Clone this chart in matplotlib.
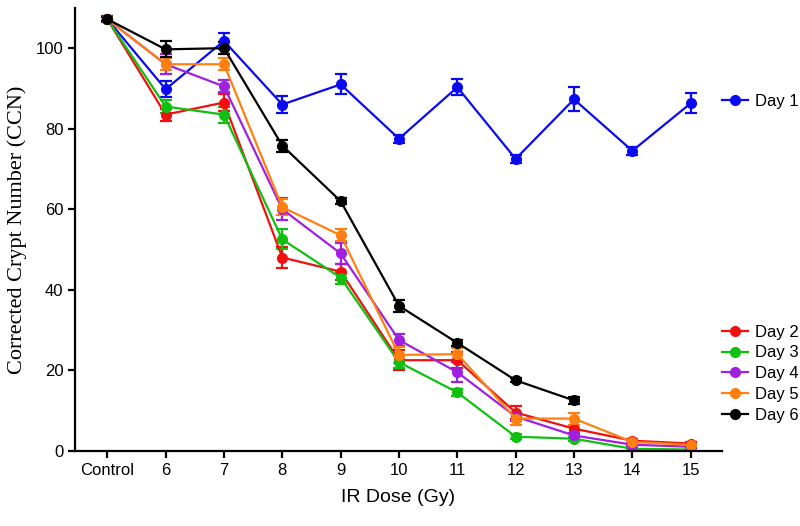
import matplotlib.pyplot as plt
from matplotlib.lines import Line2D
import numpy as np

# x categories
doses = ['Control', '6', '7', '8', '9', '10', '11', '12', '13', '14', '15']

# mean corrected crypt number per day
day1 = [107.2, 89.8, 101.8, 86.0, 91.0, 77.5, 90.3, 72.5, 87.3, 74.5, 86.3]
day2 = [107.2, 83.5, 86.5, 48.0, 44.5, 22.5, 22.5, 9.5, 5.5, 2.5, 1.8]
day3 = [107.2, 85.5, 83.5, 52.5, 43.0, 22.0, 14.5, 3.5, 3.0, 0.5, 0.3]
day4 = [107.2, 96.0, 90.5, 60.0, 49.0, 27.5, 19.5, 8.5, 3.8, 1.5, 1.0]
day5 = [107.2, 96.0, 96.0, 60.5, 53.5, 23.8, 24.0, 8.0, 8.0, 2.2, 1.5]
day6 = [107.2, 99.7, 100.0, 75.8, 62.0, 36.0, 26.8, 17.5, 12.5]

# standard errors
err1 = [0.8, 2.0, 2.0, 2.2, 2.5, 1.0, 2.0, 1.0, 3.0, 1.0, 2.5]
err2 = [0.5, 1.5, 2.0, 2.5, 2.0, 2.5, 2.0, 1.5, 1.0, 0.5, 0.4]
err3 = [0.5, 1.5, 2.0, 2.5, 1.5, 1.5, 0.8, 0.6, 0.5, 0.3, 0.3]
err4 = [0.5, 2.5, 1.5, 2.8, 2.5, 1.5, 2.5, 1.0, 0.6, 0.4, 0.3]
err5 = [0.5, 1.5, 1.5, 2.0, 1.5, 2.0, 1.5, 1.5, 1.5, 0.4, 0.3]
err6 = [0.5, 2.0, 1.5, 1.5, 0.8, 1.5, 0.8, 0.5, 0.8]

series = [
    ('Day 1', day1, err1, '#0a0af0'),
    ('Day 2', day2, err2, '#f01010'),
    ('Day 3', day3, err3, '#10c010'),
    ('Day 4', day4, err4, '#a020e0'),
    ('Day 5', day5, err5, '#ff8010'),
    ('Day 6', day6, err6, '#000000'),
]

fig = plt.figure(figsize=(8, 5.26), dpi=100)
ax = fig.add_axes([0.094, 0.143, 0.808, 0.842])

handles = []
for name, vals, errs, color in series:
    x = np.arange(len(vals))
    ax.errorbar(x, vals, yerr=errs, color=color, marker='o', markersize=7,
                linewidth=1.6, elinewidth=1.6, capsize=4, capthick=1.6)
    handles.append(Line2D([], [], color=color, marker='o', markersize=7,
                          linewidth=1.6, label=name))

ax.set_xticks(np.arange(len(doses)))
ax.set_xticklabels(doses)
ax.set_xlim(-0.55, 10.53)
ax.set_ylim(0, 110)
ax.set_yticks([0, 20, 40, 60, 80, 100])

for side in ['top', 'right']:
    ax.spines[side].set_visible(False)
for side in ['left', 'bottom']:
    ax.spines[side].set_linewidth(1.6)
ax.tick_params(width=1.6, length=5, labelsize=12)
for lab in ax.get_xticklabels() + ax.get_yticklabels():
    lab.set_family('Liberation Sans')

ax.set_ylabel('Corrected Crypt Number (CCN)', family='Liberation Serif',
              fontsize=16, labelpad=6)
ax.set_xlabel('IR Dose (Gy)', family='Liberation Sans', fontsize=14, labelpad=8)

leg_kw = dict(loc='center left', frameon=False,
              prop={'family': 'Liberation Sans', 'size': 12},
              handlelength=1.6, handletextpad=0.4, borderaxespad=0, borderpad=0)
leg1 = ax.legend(handles=handles[:1], bbox_to_anchor=(1.0, 0.788), **leg_kw)
ax.add_artist(leg1)
ax.legend(handles=handles[1:], bbox_to_anchor=(1.0, 0.174),
          labelspacing=0.35, **leg_kw)

plt.savefig('out.png', dpi=100)
